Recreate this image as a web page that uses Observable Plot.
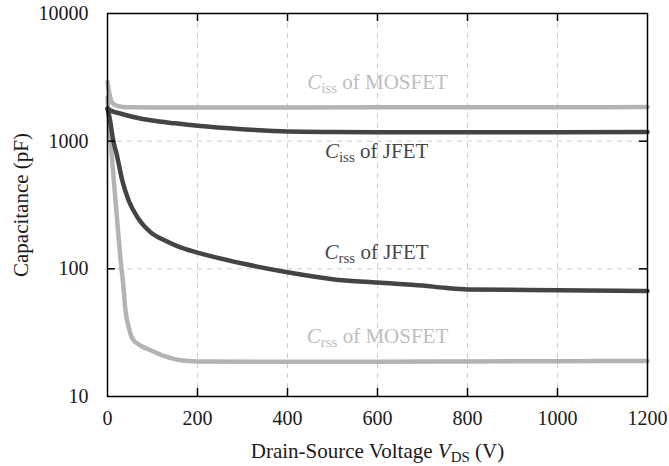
<!DOCTYPE html>
<html>
<head>
<meta charset="utf-8">
<script src="https://cdn.jsdelivr.net/npm/d3@7"></script>
<script src="https://cdn.jsdelivr.net/npm/@observablehq/plot@0.6"></script>
<style>
  html, body { margin: 0; padding: 0; background: #fff; }
  #chart { width: 669px; height: 466px; }
</style>
</head>
<body>
<div id="chart"></div>
<script>
// ---- tick values ----
const xTicks = [0, 200, 400, 600, 800, 1000, 1200];
const yTicks = [10, 100, 1000, 10000];

// ---- series ----
const cissMosfetV = [0, 5, 10, 20, 30, 50, 100, 200, 400, 600, 800, 1000, 1200];
const cissMosfetC = [2900, 2280, 2010, 1900, 1860, 1840, 1835, 1835, 1838, 1840, 1840, 1845, 1850];

const cissJfetV = [0, 10, 30, 60, 100, 150, 200, 300, 400, 500, 600, 800, 1000, 1200];
const cissJfetC = [1800, 1720, 1640, 1540, 1450, 1380, 1320, 1240, 1190, 1180, 1175, 1175, 1175, 1180];

const crssJfetV = [0, 5, 13, 20, 33, 47, 67, 96, 130, 162, 200, 300, 400, 500, 600, 700, 750, 800, 1000, 1200];
const crssJfetC = [1800, 1500, 1000, 800, 490, 343, 252, 193, 165, 147, 134, 110, 94, 83, 78, 74, 71, 69, 68, 67];

const crssMosfetV = [0, 3, 7, 12, 18, 24, 29, 35, 40, 47, 55, 70, 96, 130, 162, 200, 400, 600, 800, 1000, 1200];
const crssMosfetC = [2200, 1500, 1000, 600, 337, 187, 118, 75, 47, 35, 28.5, 25.5, 23, 20.5, 19.2, 18.8, 18.7, 18.7, 18.8, 18.9, 19];

// ---- annotation labels (symbol_subscript rest) ----
const labelText = ["C_iss of MOSFET", "C_iss of JFET", "C_rss of JFET", "C_rss of MOSFET"];
const labelV = [600, 598, 598, 600];
const labelC = [2870, 828, 136, 29.4];
const labelTone = ["light", "dark", "dark", "light"];

const series = (name, V, C) => V.map((v, i) => ({ name, v, c: C[i] }));
const light = "#b3b3b3", dark = "#444444";
const lightText = "#bdbdbd", darkText = "#474747";
const gridStyle = { stroke: "#cccccc", strokeWidth: 1, strokeDasharray: "5,5" };
const FS = 20, LFS = 21;
const plotH = 466 - 13 - 70, plotW = 669 - 107 - 22, tickLen = 8;

const lineOpts = (color) => ({ x: "v", y: "c", stroke: color, strokeWidth: 4.5, curve: "monotone-x", strokeLinejoin: "round" });

const labels = labelText.map((t, i) => ({ t, v: labelV[i], c: labelC[i], tone: labelTone[i] }));

const chart = Plot.plot({
  width: 669,
  height: 466,
  marginLeft: 107,
  marginRight: 22,
  marginTop: 13,
  marginBottom: 70,
  style: { fontFamily: "'Liberation Serif', 'Times New Roman', serif", fontSize: FS + "px", color: "#1a1a1a", background: "#fff" },
  x: { domain: [0, 1200] },
  y: { type: "log", domain: [10, 10000] },
  marks: [
    Plot.ruleX(xTicks.slice(1, -1), gridStyle),
    Plot.ruleY(yTicks.slice(1, -1), gridStyle),
    Plot.line(series("crssMosfet", crssMosfetV, crssMosfetC), lineOpts(light)),
    Plot.line(series("cissMosfet", cissMosfetV, cissMosfetC), lineOpts(light)),
    Plot.line(series("crssJfet", crssJfetV, crssJfetC), lineOpts(dark)),
    Plot.line(series("cissJfet", cissJfetV, cissJfetC), lineOpts(dark)),
    // inward ticks
    Plot.ruleX(xTicks.slice(1, -1), { stroke: "#000", strokeWidth: 1.5, insetTop: plotH - tickLen }),
    Plot.ruleX(xTicks.slice(1, -1), { stroke: "#000", strokeWidth: 1.5, insetBottom: plotH - tickLen }),
    Plot.ruleY(yTicks.slice(1, -1), { stroke: "#000", strokeWidth: 1.5, insetRight: plotW - tickLen }),
    Plot.ruleY(yTicks.slice(1, -1), { stroke: "#000", strokeWidth: 1.5, insetLeft: plotW - tickLen }),
    Plot.frame({ stroke: "#000", strokeWidth: 1.5 }),
    Plot.axisX({ ticks: xTicks, tickSize: 0, tickPadding: 14, tickFormat: d => String(d), label: null, fontSize: FS, fill: "#1a1a1a" }),
    Plot.axisY({ ticks: yTicks, tickSize: 0, tickPadding: 19, tickFormat: d => String(d), label: null, fontSize: FS, fill: "#1a1a1a" }),
    Plot.text(labels, { x: "v", y: "c", text: "t", fontSize: LFS, textAnchor: "middle", lineAnchor: "middle",
      fill: d => d.tone === "light" ? lightText : darkText }),
    Plot.text(["Drain-Source Voltage V_DS (V)"], { frameAnchor: "bottom", textAnchor: "middle", dy: 55, fontSize: LFS, fill: "#1a1a1a", lineAnchor: "middle" }),
    Plot.text(["Capacitance (pF)"], { frameAnchor: "left", textAnchor: "middle", dx: -86.4, rotate: -90, fontSize: LFS, fill: "#1a1a1a", lineAnchor: "middle" })
  ]
});

// render subscripts / italic symbols as real tspans
d3.select(chart).selectAll("text").each(function () {
  const t = this.textContent;
  const m = t.match(/^(.*?)([A-Z])_([A-Za-z]+)(.*)$/);
  if (!m) return;
  const sel = d3.select(this);
  sel.text(null);
  const sub = Math.round(LFS * 0.72), shift = 4;
  if (m[1]) sel.append("tspan").text(m[1]);
  sel.append("tspan").attr("font-style", "italic").text(m[2]);
  sel.append("tspan").attr("font-size", sub).attr("dy", shift).text(m[3]);
  sel.append("tspan").attr("dy", -shift).text(m[4]);
});

document.getElementById("chart").appendChild(chart);
</script>
</body>
</html>
